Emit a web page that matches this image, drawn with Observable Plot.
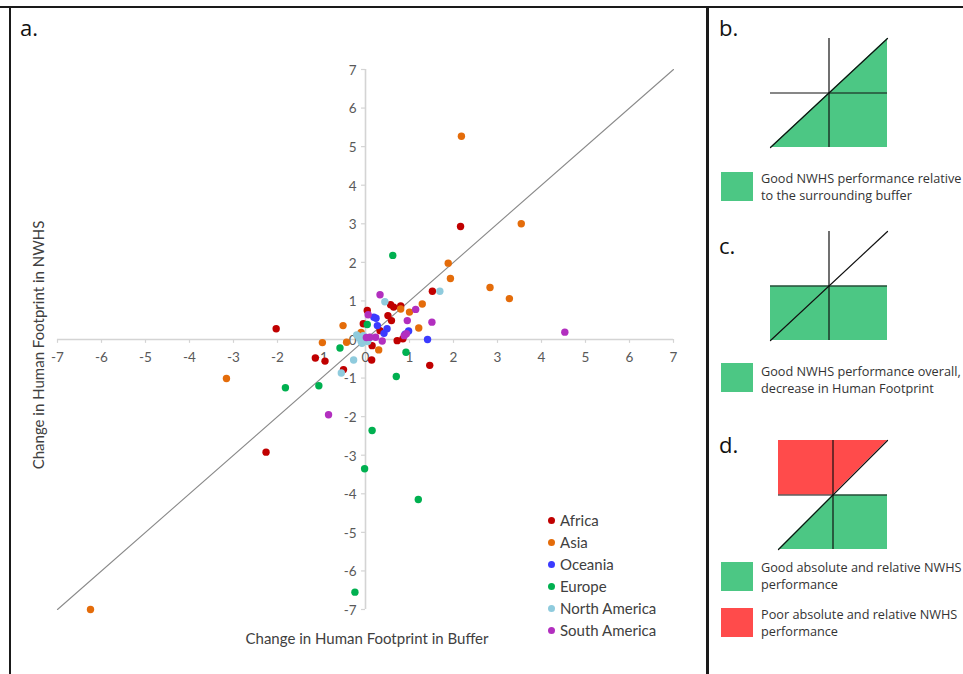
<!DOCTYPE html>
<html>
<head>
<meta charset="utf-8">
<script src="https://cdn.jsdelivr.net/npm/d3@7"></script>
<script src="https://cdn.jsdelivr.net/npm/@observablehq/plot@0.6"></script>
<style>
  html, body { margin: 0; padding: 0; background: #fff; }
  #fig { position: relative; width: 963px; height: 674px; overflow: hidden; background: #fff; font-family: Lato, "Open Sans", sans-serif; }
  .abs { position: absolute; }
  .panelLabel { font-family: "Open Sans", sans-serif; font-size: 22px; color: #111; line-height: 1; }
  .note { font-family: "Open Sans", sans-serif; font-size: 12.7px; color: #333; line-height: 14px; white-space: nowrap; }
  .sw { position: absolute; }
  .line { position: absolute; background: #1a1a1a; }
  #legend div { position: absolute; font-size: 15px; color: #404040; white-space: nowrap; line-height: 1; }
  #legend span.dot { display: inline-block; width: 7px; height: 7px; border-radius: 50%; margin-right: 5px; vertical-align: 2px; }
</style>
</head>
<body>
<div id="fig"></div>
<script>
// ---------- data ----------
const regions = ["Africa", "Asia", "Oceania", "Europe", "North America", "South America"];
const regionColors = ["#C00000", "#E46C0A", "#3B3BFF", "#00B050", "#8FCBDD", "#B22FBF"];

const africaX = [-2.03, -1.14, -0.92, -0.50, -2.26, 0.14, 1.46, 0.72, 0.85, 1.52, 0.57, 0.64, 0.80, 0.04, -0.05, 0.51, 0.59, 0.33, 0.15, 2.16];
const africaY = [0.28, -0.48, -0.56, -0.78, -2.92, -0.53, -0.67, -0.03, 0.02, 1.25, 0.90, 0.84, 0.87, 0.75, 0.41, 0.62, 0.49, 0.23, -0.16, 2.93];

const asiaX = [-6.25, -3.16, -0.98, -0.43, -0.51, -0.10, 0.30, 0.80, 1.00, 1.21, 1.29, 1.93, 1.88, 2.83, 3.27, 3.54, 2.18];
const asiaY = [-7.00, -1.01, -0.08, -0.07, 0.36, 0.18, -0.27, 0.79, 0.71, 0.30, 0.92, 1.58, 1.98, 1.35, 1.06, 3.00, 5.27];

const oceaniaX = [0.19, 0.24, 0.27, 0.49, 0.42, 0.98, 1.41, 0.90];
const oceaniaY = [0.58, 0.55, 0.36, 0.28, 0.16, 0.22, 0.00, 0.14];

const europeX = [-1.82, -1.06, -0.58, 0.04, 0.62, 0.92, 0.70, 0.15, -0.02, 1.20, -0.24];
const europeY = [-1.25, -1.20, -0.22, 0.39, 2.18, -0.33, -0.96, -2.36, -3.35, -4.15, -6.55];

const northAmericaX = [-0.55, -0.27, 0.44, 1.69, -0.15, -0.10, -0.05, 0.00, 0.05, -0.20, 0.10, -0.08];
const northAmericaY = [-0.87, -0.53, 0.98, 1.25, 0.05, -0.05, 0.10, 0.00, -0.05, 0.12, 0.05, -0.10];

const southAmericaX = [-0.84, 0.33, 0.06, 0.23, 0.10, 0.38, 0.93, 0.88, 0.95, 1.14, 1.51, 4.53, 0.02];
const southAmericaY = [-1.95, 1.16, 0.64, 0.06, 0.06, -0.04, 0.15, 0.10, 0.49, 0.78, 0.45, 0.19, 0.05];

const xTicks = [-7, -6, -5, -4, -3, -2, -1, 0, 1, 2, 3, 4, 5, 6, 7];
const yTicks = [-7, -6, -5, -4, -3, -2, -1, 0, 1, 2, 3, 4, 5, 6, 7];
const axisExtent = [-7, 7];

const xTitle = "Change in Human Footprint in Buffer";
const yTitle = "Change in Human Footprint in NWHS";

// side panels (schematic regions in unit square)
const panelB_green = [{x: -1, y1: -1, y2: -1}, {x: 1, y1: -1, y2: 1}];
const panelC_green = [{x: -1, y1: -1, y2: 0}, {x: 1, y1: -1, y2: 0}];
const panelD_red = [{x: -1, y1: 0, y2: 1}, {x: 0, y1: 0, y2: 1}, {x: 1, y1: 1, y2: 1}];
const panelD_green = [{x: -1, y1: -1, y2: -1}, {x: 0, y1: -1, y2: 0}, {x: 1, y1: -1, y2: 0}];
const diagonal = [{x: -1, y: -1}, {x: 1, y: 1}];
const goodColor = "#4CC784";
const poorColor = "#FF4B4B";
const noteB = ["Good NWHS performance relative", "to the surrounding buffer"];
const noteC = ["Good NWHS performance overall,", "decrease in Human Footprint"];
const noteD1 = ["Good absolute and relative NWHS", "performance"];
const noteD2 = ["Poor absolute and relative NWHS", "performance"];

// ---------- build ----------
const seriesX = [africaX, asiaX, oceaniaX, europeX, northAmericaX, southAmericaX];
const seriesY = [africaY, asiaY, oceaniaY, europeY, northAmericaY, southAmericaY];
const points = [];
regions.forEach((r, i) => seriesX[i].forEach((x, j) => points.push({region: r, x, y: seriesY[i][j]})));

const fig = document.getElementById("fig");
const axisColor = "#d4d4d4";
const tickText = "#595959";

const main = Plot.plot({
  width: 698, height: 666,
  marginLeft: 47, marginRight: 35, marginTop: 61, marginBottom: 65,
  style: {fontFamily: "Lato, sans-serif", background: "transparent"},
  x: {domain: axisExtent, axis: null},
  y: {domain: axisExtent, axis: null},
  color: {domain: regions, range: regionColors},
  marks: [
    Plot.ruleY([0], {x1: axisExtent[0], x2: axisExtent[1], stroke: axisColor, strokeWidth: 1.6}),
    Plot.ruleX([0], {y1: axisExtent[0], y2: axisExtent[1], stroke: axisColor, strokeWidth: 1.6}),
    Plot.ruleX(xTicks, {x: d => d, y1: 0, y2: -0.1, stroke: axisColor, strokeWidth: 1.2}),
    Plot.ruleY(yTicks, {y: d => d, x1: 0, x2: -0.09, stroke: axisColor, strokeWidth: 1.2}),
    Plot.line(axisExtent.map(v => ({x: v, y: v})), {x: "x", y: "y", stroke: "#8a8a8a", strokeWidth: 1.1}),
    Plot.text(xTicks, {x: d => d, y: 0, dy: 18, text: d => String(d), fill: tickText, fontSize: 13.5}),
    Plot.text(yTicks, {x: 0, y: d => d, dx: -9, dy: 1, text: d => String(d), textAnchor: "end", fill: tickText, fontSize: 13.5}),
    Plot.dot(points, {x: "x", y: "y", fill: "region", r: 3.7, stroke: "none"})
  ]
});
main.style.position = "absolute";
main.style.left = "10px";
main.style.top = "8px";
fig.appendChild(main);

// axis titles
const xt = document.createElement("div");
xt.className = "abs";
xt.style.cssText = "left:367px; top:638px; transform:translate(-50%,-50%); font-size:15px; color:#404040; white-space:nowrap;";
xt.textContent = xTitle;
fig.appendChild(xt);
const yt = document.createElement("div");
yt.className = "abs";
yt.style.cssText = "left:38px; top:345px; transform:translate(-50%,-50%) rotate(-90deg); font-size:15px; color:#404040; white-space:nowrap;";
yt.textContent = yTitle;
fig.appendChild(yt);

// legend
const leg = document.createElement("div");
leg.id = "legend";
regions.forEach((r, i) => {
  const d = document.createElement("div");
  d.style.left = "548px";
  d.style.top = (513 + i * 22) + "px";
  d.innerHTML = `<span class="dot" style="background:${regionColors[i]}"></span>${r}`;
  leg.appendChild(d);
});
fig.appendChild(leg);

// panel diagrams
function schematic(areas, opts) {
  const marks = areas.map(([data, fill]) => Plot.areaY(data, {x: "x", y1: "y1", y2: "y2", fill, curve: "linear"}));
  marks.push(Plot.line(diagonal, {x: "x", y: "y", stroke: "#111", strokeWidth: 1.2}));
  marks.push(Plot.ruleX([0], {y1: -1, y2: 1, stroke: "#111", strokeWidth: 1.2}));
  marks.push(Plot.ruleY([0], {x1: -1, x2: 1, stroke: "#111", strokeWidth: 1.2}));
  const p = Plot.plot({
    width: opts.w, height: 130,
    marginLeft: 20, marginRight: opts.mr, marginTop: 10, marginBottom: 11,
    x: {domain: [-1, 1], axis: null},
    y: {domain: [-1, 1], axis: null},
    style: {background: "transparent", overflow: "visible"},
    marks
  });
  p.style.position = "absolute";
  p.style.left = opts.left + "px";
  p.style.top = opts.top + "px";
  fig.appendChild(p);
}
schematic([[panelB_green, goodColor]], {w: 160, mr: 23, left: 750, top: 28});
schematic([[panelC_green, goodColor]], {w: 160, mr: 23, left: 750, top: 221});
schematic([[panelD_red, poorColor], [panelD_green, goodColor]], {w: 160, mr: 31, left: 758, top: 430});

function note(lines, color, sqTop, textTop) {
  const s = document.createElement("div");
  s.className = "sw";
  s.style.cssText = `left:721px; top:${sqTop}px; width:32px; height:29px; background:${color};`;
  fig.appendChild(s);
  lines.forEach((ln, k) => {
    const t = document.createElement("div");
    t.className = "abs note";
    t.style.left = "761px";
    t.style.top = (textTop + k * 17) + "px";
    t.textContent = ln;
    fig.appendChild(t);
  });
}
note(noteB, goodColor, 172, 171);
note(noteC, goodColor, 363, 364);
note(noteD1, goodColor, 562, 560);
note(noteD2, poorColor, 608, 607);

// panel labels
[["a.", 20, 16], ["b.", 719, 16], ["c.", 719, 234], ["d.", 719, 433]].forEach(([t, l, tp]) => {
  const d = document.createElement("div");
  d.className = "abs panelLabel";
  d.style.left = l + "px"; d.style.top = tp + "px";
  d.textContent = t;
  fig.appendChild(d);
});

// frame lines
[["left:0; top:6px; width:963px; height:2px;"],
 ["left:9px; top:6px; width:2px; height:668px;"],
 ["left:706px; top:6px; width:3px; height:668px;"]].forEach(([css]) => {
  const d = document.createElement("div");
  d.className = "line";
  d.style.cssText += css;
  fig.appendChild(d);
});
</script>
</body>
</html>
